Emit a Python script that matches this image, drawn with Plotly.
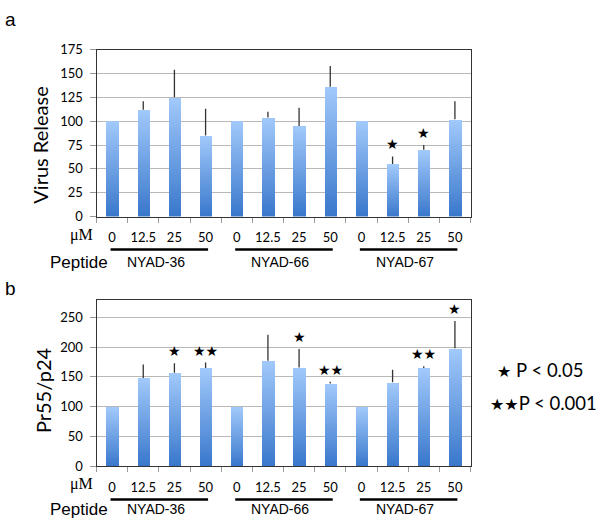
import plotly.graph_objects as go

# ---------------- data ----------------
conc_labels = ["0", "12.5", "25", "50", "0", "12.5", "25", "50", "0", "12.5", "25", "50"]
groups = ["NYAD-36", "NYAD-66", "NYAD-67"]

virus_release = [100, 112, 125, 85, 100, 104, 95, 136, 100, 55, 70, 102]
virus_release_err = [0, 9, 29, 28, 0, 6, 19, 22, 0, 8, 5, 19]
virus_release_sig = ["", "", "", "", "", "", "", "", "", "★", "★", ""]

pr55_p24 = [100, 148, 157, 165, 100, 177, 166, 139, 100, 141, 165, 198]
pr55_p24_err = [0, 23, 16, 9, 0, 44, 31, 3, 0, 21, 3, 46]
pr55_p24_sig = ["", "", "★", "★★", "", "", "★", "★★", "", "", "★★", "★"]

legend_stars = ["★", "★★"]
legend_texts = [" P < 0.05", "P < 0.001"]

# ---------------- helpers ----------------
W, H = 600, 530
N_SLICES = 40
TOP = (160, 200, 250)
BOT = (58, 120, 204)


def px_x(p):
    return p / W


def px_y(p):
    return (H - p) / H


def lerp(c1, c2, t):
    return "rgb(%d,%d,%d)" % tuple(round(a + (b - a) * t) for a, b in zip(c1, c2))


fig = go.Figure()
idx = list(range(len(conc_labels)))

panels = [
    dict(vals=virus_release, err=virus_release_err, sig=virus_release_sig,
         xa="x", ya="y", xname="xaxis", yname="yaxis",
         dom_y=[px_y(215), px_y(43)], rng=[0, 175], dtick=25,
         title="Virus Release", title_pos=(40, 142), letter="a", letter_pos=(10, 12),
         um_y=234, line_y=249, pep_y=262),
    dict(vals=pr55_p24, err=pr55_p24_err, sig=pr55_p24_sig,
         xa="x2", ya="y2", xname="xaxis2", yname="yaxis2",
         dom_y=[px_y(472.3), px_y(300.7)], rng=[0, 280], dtick=50,
         title="Pr55/p24", title_pos=(43, 394), letter="b", letter_pos=(10, 289),
         um_y=491, line_y=506.7, pep_y=517),
]

annotations = []
shapes = []
for p in panels:
    vals = p["vals"]
    # gradient bars made of stacked slices
    for i in range(N_SLICES):
        t = i / (N_SLICES - 1)
        fig.add_trace(go.Bar(
            x=idx, y=[v / N_SLICES for v in vals], base=[v * i / N_SLICES for v in vals],
            width=0.4, marker=dict(color=lerp(BOT, TOP, t), line=dict(width=0)),
            xaxis=p["xa"], yaxis=p["ya"], showlegend=False, hoverinfo="skip"))
    # upper error bars
    fig.add_trace(go.Scatter(
        x=idx, y=vals, mode="markers", marker=dict(size=1, opacity=0),
        error_y=dict(type="data", symmetric=False, array=p["err"],
                     arrayminus=[0] * len(vals), width=0, thickness=1.3, color="#333333"),
        xaxis=p["xa"], yaxis=p["ya"], showlegend=False, hoverinfo="skip"))
    # significance stars
    for i, s in enumerate(p["sig"]):
        if s:
            annotations.append(dict(
                x=i, y=vals[i] + p["err"][i], xref=p["xa"], yref=p["ya"],
                text=s, showarrow=False, yanchor="middle", yshift=12,
                font=dict(family="DejaVu Sans", size=14, color="black")))
    # axes
    xd = dict(domain=[px_x(96.5), px_x(470.5)], range=[-0.5, 11.5],
              tickmode="array", tickvals=idx, ticktext=conc_labels,
              ticks="", showgrid=False, zeroline=False,
              showline=True, mirror=True, linecolor="#333333", linewidth=1,
              tickfont=dict(family="Lato", size=13, color="black"),
              ticklabelstandoff=9,
              minor=dict(tickmode="linear", tick0=-0.5, dtick=1, ticks="outside",
                         ticklen=5, tickcolor="#999999", tickwidth=1, showgrid=False),
              fixedrange=True)
    if p["xa"] == "x2":
        xd["anchor"] = "y2"
    else:
        xd["anchor"] = "y"
    yd = dict(domain=p["dom_y"], range=p["rng"], dtick=p["dtick"], tick0=0,
              showgrid=True, gridcolor="#b8b8b8", gridwidth=1.2, zeroline=False,
              showline=True, mirror=True, linecolor="#333333", linewidth=1,
              ticks="outside", ticklen=6, tickcolor="#999999",
              tickfont=dict(family="Lato", size=13, color="black"),
              ticklabelstandoff=4, fixedrange=True,
              anchor=p["xa"])
    fig.update_layout(**{p["xname"]: xd, p["yname"]: yd})

    # y title
    annotations.append(dict(x=px_x(p["title_pos"][0]), y=px_y(p["title_pos"][1]),
                            xref="paper", yref="paper", text=p["title"], textangle=-90,
                            showarrow=False, xanchor="center", yanchor="middle",
                            font=dict(family="Lato", size=20, color="black")))
    # panel letter
    annotations.append(dict(x=px_x(p["letter_pos"][0]), y=px_y(p["letter_pos"][1]),
                            xref="paper", yref="paper", text=p["letter"], showarrow=False,
                            xanchor="center", yanchor="middle",
                            font=dict(family="Liberation Sans", size=19, color="black")))
    # μM and Peptide labels
    annotations.append(dict(x=px_x(81), y=px_y(p["um_y"]), xref="paper", yref="paper",
                            text="μM", showarrow=False, xanchor="center", yanchor="middle",
                            font=dict(family="Liberation Serif", size=16, color="black")))
    annotations.append(dict(x=px_x(79), y=px_y(p["pep_y"]), xref="paper", yref="paper",
                            text="Peptide", showarrow=False, xanchor="center", yanchor="middle",
                            font=dict(family="Liberation Sans", size=17, color="black")))
    # group underlines and labels
    for g, name in enumerate(groups):
        first, last = g * 4, g * 4 + 3
        shapes.append(dict(type="line", xref=p["xa"], yref="paper",
                           x0=first - 0.05, x1=last + 0.08,
                           y0=px_y(p["line_y"]), y1=px_y(p["line_y"]),
                           line=dict(color="black", width=2.5)))
        annotations.append(dict(x=(first + last) / 2 - 0.1, y=px_y(p["pep_y"]),
                                xref=p["xa"], yref="paper", text=name, showarrow=False,
                                xanchor="center", yanchor="middle",
                                font=dict(family="Liberation Sans", size=14, color="black")))

# legend for significance
for star, text, lx, ly in zip(legend_stars, legend_texts, [495, 488], [373, 407]):
    annotations.append(dict(x=px_x(lx), y=px_y(ly), xref="paper", yref="paper",
                            text="<span style='font-size:16px;font-family:DejaVu Sans'>%s</span>%s" % (star, text),
                            showarrow=False, xanchor="left", yanchor="middle",
                            font=dict(family="Lato", size=18.5, color="black")))

fig.update_layout(
    width=W, height=H, margin=dict(l=0, r=0, t=0, b=0),
    paper_bgcolor="white", plot_bgcolor="white",
    barmode="overlay", bargap=0,
    annotations=annotations, shapes=shapes,
)

fig.write_html(
    "out.html",
    config={"displayModeBar": False},
    post_script=(
        "document.documentElement.style.margin='0';"
        "document.body.style.margin='0';document.body.style.padding='0';"
        "document.body.style.overflow='hidden';"
        "var d=document.getElementById('{plot_id}');"
        "d.style.position='absolute';d.style.left='0px';d.style.top='0px';"
    ),
)
